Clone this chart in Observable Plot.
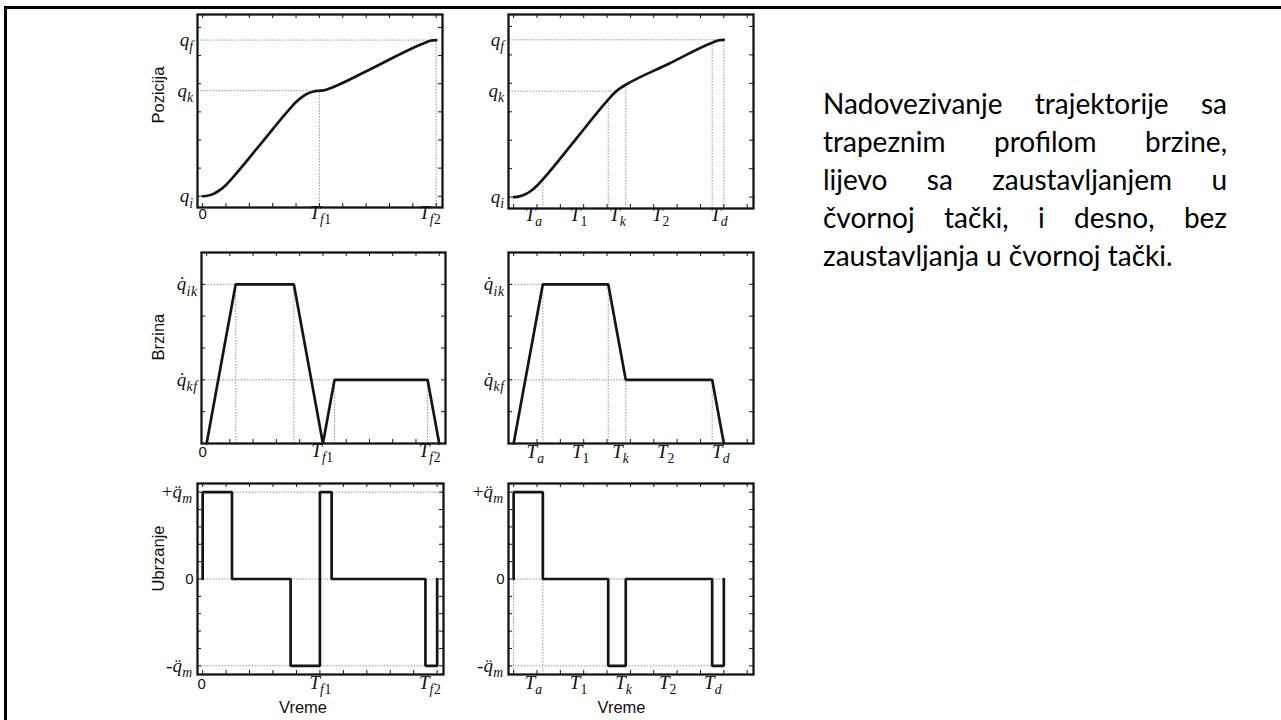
<!DOCTYPE html>
<html>
<head>
<meta charset="utf-8">
<script src="https://cdn.jsdelivr.net/npm/d3@7"></script>
<script src="https://cdn.jsdelivr.net/npm/@observablehq/plot@0.6"></script>
<style>
  html, body { margin: 0; padding: 0; background: #fff; width: 1281px; height: 720px; overflow: hidden; }
  #slide { position: relative; width: 1281px; height: 720px; overflow: hidden; }
  #border { position: absolute; left: 4px; top: 6px; width: 1400px; height: 900px; border: 3px solid #000; box-sizing: border-box; }
  .panel { position: absolute; }
  #caption { position: absolute; left: 823px; top: 84px; width: 404px; font-family: Lato, "Open Sans", sans-serif; font-size: 28px; line-height: 38px; color: #000; }
  #caption span { display: block; text-align: justify; text-align-last: justify; white-space: nowrap; }
  #caption span.last { text-align-last: left; }
</style>
</head>
<body>
<div id="slide">
  <div id="border"></div>
  <div id="caption">
    <span>Nadovezivanje trajektorije sa</span>
    <span>trapeznim profilom brzine,</span>
    <span>lijevo sa zaustavljanjem u</span>
    <span>čvornoj tački, i desno, bez</span>
    <span class="last">zaustavljanja u čvornoj tački.</span>
  </div>
</div>
<script>
// ---------- shared time axis ----------
const timeTicks = [0, 1, 2, 3, 4, 5, 6, 7, 8, 9, 10];
const xDomain = [-0.22, 10.27];

// ---------- left column: trajectory that stops at the via point ----------
const tPosStop = [0, 0.25, 0.5, 0.75, 1, 1.25, 2.5, 3.75, 4, 4.25, 4.5, 4.75, 4.9, 5, 5.1, 5.25, 5.5, 7.5, 9.5, 9.75, 10];
const qPosStop = [0, 0.125, 0.5, 1.125, 2, 3.125, 9.375, 15.625, 16.75, 17.625, 18.25, 18.625, 18.73, 18.75, 18.77, 18.875, 19.25, 23.25, 27.25, 27.625, 27.75];
const tVelStop = [0, 1.25, 3.75, 5, 5.5, 9.5, 10];
const vVelStop = [0, 5, 5, 0, 2, 2, 0];
const tAccStop = [0, 0, 1.25, 3.75, 5, 5.5, 9.5, 10];
const aAccStop = [0, 4, 0, -4, 4, 0, -4, 0];

// ---------- right column: trajectory that passes through the via point ----------
const tPosGo = [0, 0.25, 0.5, 0.75, 1, 1.25, 2.65, 4.05, 4.3, 4.55, 4.8, 6.65, 8.5, 8.75, 9];
const qPosGo = [0, 0.125, 0.5, 1.125, 2, 3.125, 10.125, 17.125, 18.25, 19.125, 19.75, 23.45, 27.15, 27.525, 27.65];
const tVelGo = [0, 1.25, 4.05, 4.8, 8.5, 9];
const vVelGo = [0, 5, 5, 2, 2, 0];
const tAccGo = [0, 0, 1.25, 4.05, 4.8, 8.5, 9];
const aAccGo = [0, 4, 0, -4, 0, -4, 0];

// ---------- levels and tick labels ----------
const posTicks = [0, 5, 10, 15, 20, 25, 30];
const velTicks = [0, 1, 2, 3, 4, 5, 6];
const accTicks = [-4, -3.2, -2.4, -1.6, -0.8, 0, 0.8, 1.6, 2.4, 3.2, 4];

const posTickText = ["q_i", "q_k", "q_f"];
const posStopTickAt = [0, 18.75, 27.75];
const posGoTickAt = [0, 18.63, 27.65];
const velTickText = ["q\u0307_ik", "q\u0307_kf"];
const velTickAt = [5, 2];
const accTickText = ["+q\u0308_m", "0", "-q\u0308_m"];
const accTickAt = [4, 0, -4];

const stopTimeText = ["0", "T_f1", "T_f2"];
const stopTimeAtPos = [0, 5.05, 9.75];
const stopTimeAtVel = [-0.17, 4.98, 9.6];
const stopTimeAtAcc = [-0.04, 5.03, 9.7];
const goTimeText = ["T_a", "T_1", "T_k", "T_2", "T_d"];
const goTimeAtPos = [0.86, 2.79, 4.46, 6.31, 8.8];
const goTimeAtVel = [0.94, 2.88, 4.59, 6.52, 8.88];
const goTimeAtAcc = [0.86, 2.79, 4.72, 6.61, 8.54];

// ---------- styling ----------
const INK = "#151515";
const GUIDE = "#8c8c8c";
const SERIF = "'Liberation Serif', 'DejaVu Serif', serif";
const SANS = "'Liberation Sans', Arial, sans-serif";
const M = {l: 64, r: 10, t: 8, b: 52};
const ACCENT = {"\u0307": "\u02D9", "\u0308": "\u00A8"};

// Turn "q̇_ik" style strings into italic math with accents and subscripts.
function typeset(node) {
  const s = node.textContent;
  const t = d3.select(node);
  if (!/[A-Za-z]/.test(s)) {
    t.attr("font-family", SANS).attr("font-style", "normal").attr("font-size", 15);
    return;
  }
  const [head, sub] = s.split("_");
  t.text(null).attr("font-family", SERIF).attr("font-style", "italic");
  let accented = false;
  for (const ch of head) {
    if (ACCENT[ch]) { t.append("tspan").attr("dx", "-0.38em").attr("font-style", "normal").text(ACCENT[ch]); accented = true; }
    else if (/[A-Za-z]/.test(ch)) t.append("tspan").text(ch);
    else t.append("tspan").attr("font-style", "normal").attr("dx", "-0.05em").text(ch);
  }
  if (sub) {
    const g = t.append("tspan").attr("font-size", "0.72em").attr("dy", "0.38em").attr("letter-spacing", "0.04em");
    if (accented) g.attr("dx", "0.08em");
    for (const ch of sub) g.append("tspan").attr("font-style", /\d/.test(ch) ? "normal" : null).text(ch);
  }
}

function panel(cfg) {
  const {left, top, w, h, yDomain, yTicks, t, v, curve, hGuides, vGuides,
         yTickAt, yTickText, xTickAt, xTickText, xLabelDy, yTitle, yTitleDx, xTitle, xTitleDx} = cfg;
  const guides = [
    ...hGuides.map(([y, xe]) => ({x1: xDomain[0], y1: y, x2: xe, y2: y})),
    ...vGuides.map(([x, ye]) => ({x1: x, y1: yDomain[0], x2: x, y2: ye}))
  ];
  const series = t.map((ti, i) => ({t: ti, v: v[i]}));
  const marks = [
    Plot.link(guides, {x1: "x1", y1: "y1", x2: "x2", y2: "y2", stroke: GUIDE, strokeWidth: 1, strokeDasharray: "1.4 1.6"}),
    Plot.line(series, {x: "t", y: "v", curve, stroke: INK, strokeWidth: 2.7, strokeLinejoin: "miter"}),
    Plot.frame({stroke: INK, strokeWidth: 2.3}),
    Plot.tickX(timeTicks, {x: d => d, insetBottom: h - 4, stroke: INK, strokeWidth: 1}),
    Plot.tickX(timeTicks, {x: d => d, insetTop: h - 4, stroke: INK, strokeWidth: 1}),
    Plot.tickY(yTicks, {y: d => d, insetRight: w - 4, stroke: INK, strokeWidth: 1}),
    Plot.tickY(yTicks, {y: d => d, insetLeft: w - 4, stroke: INK, strokeWidth: 1}),
    Plot.text(yTickText, {text: d => d, y: (d, i) => yTickAt[i], frameAnchor: "left", textAnchor: "end", dx: -4,
      fontFamily: SERIF, fontStyle: "italic", fontSize: 19, fill: "#111"}),
    Plot.text(xTickText, {text: d => d, x: (d, i) => xTickAt[i], frameAnchor: "bottom", dy: xLabelDy,
      fontFamily: SERIF, fontStyle: "italic", fontSize: 19, fill: "#111"})
  ];
  if (yTitle) marks.push(Plot.text([yTitle], {text: d => d, frameAnchor: "left", rotate: -90, dx: yTitleDx, dy: 12.5,
    fontFamily: SANS, fontSize: 16.5, fill: "#111"}));
  if (xTitle) marks.push(Plot.text([xTitle], {text: d => d, frameAnchor: "bottom", dx: xTitleDx, dy: 38,
    fontFamily: SANS, fontSize: 16.5, fill: "#111"}));

  const svg = Plot.plot({
    width: w + M.l + M.r,
    height: h + M.t + M.b,
    marginLeft: M.l, marginRight: M.r, marginTop: M.t, marginBottom: M.b,
    style: {background: "transparent", overflow: "visible", maxWidth: "none"},
    x: {domain: xDomain, axis: null},
    y: {domain: yDomain, axis: null},
    marks
  });
  d3.select(svg).selectAll("text").each(function () {
    const s = this.textContent;
    if (s.includes("_") || s === "0") typeset(this);
  });
  const holder = document.createElement("div");
  holder.className = "panel";
  holder.style.left = (left - M.l) + "px";
  holder.style.top = (top - M.t) + "px";
  holder.appendChild(svg);
  document.getElementById("slide").appendChild(holder);
}

// ----- left column -----
panel({left: 197, top: 14, w: 245, h: 193, yDomain: [-2, 32.3], yTicks: posTicks,
  t: tPosStop, v: qPosStop, curve: "monotone-x",
  hGuides: [[posStopTickAt[1], tVelStop[3]], [posStopTickAt[2], tVelStop[6]]],
  vGuides: [[tVelStop[3], posStopTickAt[1]], [tVelStop[6], posStopTickAt[2]]],
  yTickAt: posStopTickAt, yTickText: posTickText, xTickAt: stopTimeAtPos, xTickText: stopTimeText, xLabelDy: 11.5,
  yTitle: "Pozicija", yTitleDx: -39});

panel({left: 201, top: 252, w: 244, h: 191, yDomain: [0, 6], yTicks: velTicks,
  t: tVelStop, v: vVelStop, curve: "linear",
  hGuides: [[vVelStop[1], tVelStop[1]], [vVelStop[4], tVelStop[4]]],
  vGuides: [1, 2, 4, 5].map(i => [tVelStop[i], vVelStop[i]]),
  yTickAt: velTickAt, yTickText: velTickText, xTickAt: stopTimeAtVel, xTickText: stopTimeText, xLabelDy: 13,
  yTitle: "Brzina", yTitleDx: -43});

panel({left: 197, top: 483, w: 246, h: 191, yDomain: [-4.4, 4.4], yTicks: accTicks,
  t: tAccStop, v: aAccStop, curve: "step-after",
  hGuides: accTickAt.map(a => [a, xDomain[1]]),
  vGuides: [],
  yTickAt: accTickAt, yTickText: accTickText, xTickAt: stopTimeAtAcc, xTickText: stopTimeText, xLabelDy: 14,
  yTitle: "Ubrzanje", yTitleDx: -39, xTitle: "Vreme", xTitleDx: -17.5});

// ----- right column -----
panel({left: 508, top: 14, w: 245, h: 194, yDomain: [-2, 32.1], yTicks: posTicks,
  t: tPosGo, v: qPosGo, curve: "monotone-x",
  hGuides: [[posGoTickAt[2], tPosGo[14]], [posGoTickAt[1], 4.4]],
  vGuides: [5, 7, 10, 12, 14].map(i => [tPosGo[i], qPosGo[i]]),
  yTickAt: posGoTickAt, yTickText: posTickText, xTickAt: goTimeAtPos, xTickText: goTimeText, xLabelDy: 12});

panel({left: 508, top: 252, w: 245, h: 191, yDomain: [0, 6], yTicks: velTicks,
  t: tVelGo, v: vVelGo, curve: "linear",
  hGuides: [[vVelGo[1], tVelGo[1]], [vVelGo[3], tVelGo[3]]],
  vGuides: [1, 2, 3, 4].map(i => [tVelGo[i], vVelGo[i]]),
  yTickAt: velTickAt, yTickText: velTickText, xTickAt: goTimeAtVel, xTickText: goTimeText, xLabelDy: 14});

panel({left: 508, top: 483, w: 245, h: 191, yDomain: [-4.4, 4.4], yTicks: accTicks,
  t: tAccGo, v: aAccGo, curve: "step-after",
  hGuides: [[0, tAccGo[6]], [-4, tAccGo[6]]],
  vGuides: [[tAccGo[0], 0], [tAccGo[2], 0]],
  yTickAt: accTickAt, yTickText: accTickText, xTickAt: goTimeAtAcc, xTickText: goTimeText, xLabelDy: 14,
  xTitle: "Vreme", xTitleDx: -9.5});
</script>
</body>
</html>
